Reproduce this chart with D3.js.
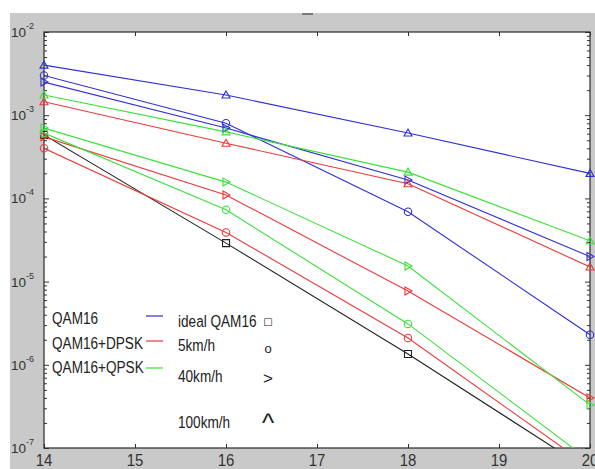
<!DOCTYPE html>
<html>
<head>
<meta charset="utf-8">
<script src="https://cdn.jsdelivr.net/npm/d3@7"></script>
<style>
  html, body { margin: 0; padding: 0; background: #fff; }
  svg { display: block; font-family: "Liberation Sans", Arial, sans-serif; }
</style>
</head>
<body>
<svg id="chart" width="595" height="469"></svg>
<script>
// SNR points (dB)
const snr = [14, 16, 18, 20];

// Bit error rates
const idealQam16 = [5.8e-4, 2.9e-5, 1.35e-6, 5.3e-8];

const qam16_5 = [3.0e-3, 8.0e-4, 6.9e-5, 2.3e-6];
const qam16_40 = [2.5e-3, 7.0e-4, 1.66e-4, 2.0e-5];
const qam16_100 = [4.0e-3, 1.75e-3, 6.1e-4, 2.0e-4];

const dpsk_5 = [4.0e-4, 3.9e-5, 2.1e-6, 5.9e-8];
const dpsk_40 = [5.5e-4, 1.1e-4, 7.7e-6, 4.0e-7];
const dpsk_100 = [1.45e-3, 4.6e-4, 1.5e-4, 1.5e-5];

const qpsk_5 = [6.1e-4, 7.3e-5, 3.1e-6, 7.0e-8];
const qpsk_40 = [7.0e-4, 1.57e-4, 1.54e-5, 3.3e-7];
const qpsk_100 = [1.75e-3, 6.3e-4, 2.07e-4, 3.1e-5];

// Axis ticks
const xTicks = [14, 15, 16, 17, 18, 19, 20];
const yExponents = [-7, -6, -5, -4, -3, -2];

// Legend texts
const schemeLabels = ["QAM16", "QAM16+DPSK", "QAM16+QPSK"];
const speedLabels = ["ideal QAM16", "5km/h", "40km/h", "100km/h"];
const speedSymbols = ["\u25A1", "o", ">", "^"];

const colors = { blue: "#2f2fd6", red: "#ec3a3a", green: "#3be03b", black: "#222" };

const series = [
  { v: idealQam16, c: colors.black, m: "square" },
  { v: qam16_5, c: colors.blue, m: "circle" },
  { v: qam16_40, c: colors.blue, m: "right" },
  { v: qam16_100, c: colors.blue, m: "up" },
  { v: dpsk_5, c: colors.red, m: "circle" },
  { v: dpsk_40, c: colors.red, m: "right" },
  { v: dpsk_100, c: colors.red, m: "up" },
  { v: qpsk_5, c: colors.green, m: "circle" },
  { v: qpsk_40, c: colors.green, m: "right" },
  { v: qpsk_100, c: colors.green, m: "up" }
];

const svg = d3.select("#chart");
const W = 595, H = 469;
const plot = { left: 44, top: 32, right: 590, bottom: 448 };

// figure background
svg.append("rect").attr("width", W).attr("height", H).attr("fill", "#fff");
svg.append("rect").attr("x", 10).attr("y", 13).attr("width", W - 10).attr("height", H - 13).attr("fill", "#c9c9c9");
svg.append("rect").attr("x", 302).attr("y", 13).attr("width", 11).attr("height", 2).attr("fill", "#7a7a7a");

const x = d3.scaleLinear().domain([14, 20]).range([plot.left, plot.right]);
const y = d3.scaleLog().domain([1e-7, 1e-2]).range([plot.bottom, plot.top]);

// axes background
svg.append("rect")
  .attr("x", plot.left).attr("y", plot.top)
  .attr("width", plot.right - plot.left).attr("height", plot.bottom - plot.top)
  .attr("fill", "#fff");

svg.append("clipPath").attr("id", "clip")
  .append("rect")
  .attr("x", plot.left).attr("y", plot.top)
  .attr("width", plot.right - plot.left).attr("height", plot.bottom - plot.top);

// log ticks: majors and minors
const majors = yExponents.map(e => Math.pow(10, e));
const minors = [];
yExponents.slice(0, -1).forEach(e => {
  for (let k = 2; k <= 9; k++) minors.push(k * Math.pow(10, e));
});

function styleAxis(g) {
  g.select(".domain").remove();
  g.selectAll(".tick line").attr("stroke", "#333").attr("stroke-width", 1);
  g.selectAll(".tick text").remove();
}

// x ticks (inward) on bottom and top
svg.append("g").attr("transform", `translate(0,${plot.bottom})`)
  .call(d3.axisBottom(x).tickValues(xTicks).tickSize(-4).tickFormat(""))
  .call(styleAxis);
svg.append("g").attr("transform", `translate(0,${plot.top})`)
  .call(d3.axisTop(x).tickValues(xTicks).tickSize(-4).tickFormat(""))
  .call(styleAxis);

// y ticks (inward) on left and right
[[plot.left, d3.axisLeft], [plot.right, d3.axisRight]].forEach(([px, ax]) => {
  svg.append("g").attr("transform", `translate(${px},0)`)
    .call(ax(y).tickValues(majors).tickSize(-5).tickFormat(""))
    .call(styleAxis);
  svg.append("g").attr("transform", `translate(${px},0)`)
    .call(ax(y).tickValues(minors).tickSize(-3).tickFormat(""))
    .call(styleAxis);
});

// axes box
svg.append("rect")
  .attr("x", plot.left).attr("y", plot.top)
  .attr("width", plot.right - plot.left).attr("height", plot.bottom - plot.top)
  .attr("fill", "none").attr("stroke", "#2a2a2a").attr("stroke-width", 1.2);

// x tick labels
svg.append("g").selectAll("text").data(xTicks).join("text")
  .attr("transform", d => `translate(${x(d)},466) scale(0.88,1)`)
  .attr("text-anchor", "middle")
  .attr("font-size", 17)
  .attr("fill", "#333")
  .text(d => d);

// y tick labels 10^e
const yl = svg.append("g").selectAll("text").data(yExponents).join("text")
  .attr("x", 11)
  .attr("y", d => y(Math.pow(10, d)) + 5)
  .attr("font-size", 13.5)
  .attr("fill", "#333");
yl.append("tspan").text("10");
yl.append("tspan").attr("dy", -8).attr("font-size", 9).text(d => d);

// series lines
const line = d3.line().x((d, i) => x(snr[i])).y(d => y(d));
const lines = svg.append("g").attr("clip-path", "url(#clip)");
series.forEach(s => {
  lines.append("path")
    .attr("d", line(s.v))
    .attr("fill", "none")
    .attr("stroke", s.c)
    .attr("stroke-width", 1.1);
});

// markers
function markerPath(type) {
  const r = 4;
  switch (type) {
    case "up": return `M0,${-r}L${r},${r * 0.75}L${-r},${r * 0.75}Z`;
    case "right": return `M${r},0L${-r * 0.75},${-r}L${-r * 0.75},${r}Z`;
    case "square": return `M-3.5,-3.5H3.5V3.5H-3.5Z`;
    default: return d3.symbol(d3.symbolCircle, 44)();
  }
}
series.forEach(s => {
  svg.append("g").selectAll("path")
    .data(s.v.map((v, i) => ({ v, sx: snr[i] })).filter(d => d.v >= 1e-7))
    .join("path")
    .attr("transform", d => `translate(${x(d.sx)},${y(d.v)})`)
    .attr("d", markerPath(s.m))
    .attr("fill", "none")
    .attr("stroke", s.c)
    .attr("stroke-width", 1.1);
});

// legend block
const leg = svg.append("g").attr("fill", "#222");
const schemeColors = [colors.blue, colors.red, colors.green];
const schemeY = [324, 349, 373];
const sampleY = [316, 341, 368];
schemeLabels.forEach((t, i) => {
  leg.append("text")
    .attr("transform", `translate(52,${schemeY[i]}) scale(0.8,1)`)
    .attr("font-size", 17)
    .text(t);
  leg.append("line")
    .attr("x1", 146).attr("x2", 163)
    .attr("y1", sampleY[i]).attr("y2", sampleY[i])
    .attr("stroke", schemeColors[i]).attr("stroke-width", 1.2);
});
const speedY = [327, 351, 382, 428];
speedLabels.forEach((t, i) => {
  leg.append("text")
    .attr("transform", `translate(178,${speedY[i]}) scale(0.8,1)`)
    .attr("font-size", 17)
    .text(t);
});
const symY = [325, 353, 384, 432];
const symSize = [10, 13, 17, 26];
const symFont = ["DejaVu Sans, sans-serif", "Liberation Sans, sans-serif", "Liberation Sans, sans-serif", "Liberation Sans, sans-serif"];
speedSymbols.forEach((t, i) => {
  leg.append("text")
    .attr("x", 268).attr("y", symY[i])
    .attr("text-anchor", "middle")
    .attr("font-size", symSize[i])
    .attr("font-family", symFont[i])
    .text(t);
});
</script>
</body>
</html>
